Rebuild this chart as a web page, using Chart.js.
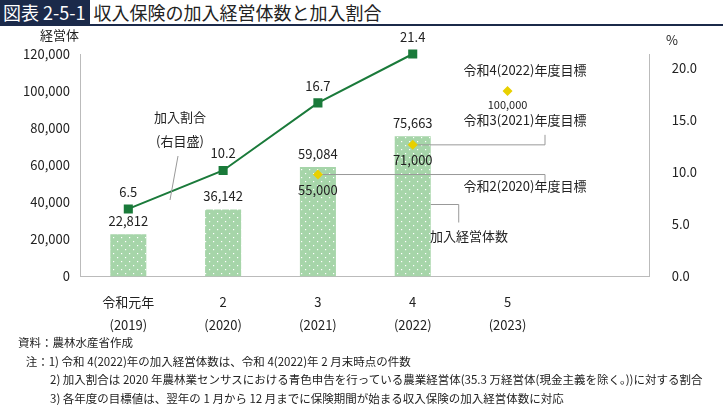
<!DOCTYPE html><html><head><meta charset="utf-8">
<script src="https://cdn.jsdelivr.net/npm/chart.js@4"></script>
<style>
body{margin:0;background:#fff;font-family:"Noto Sans CJK JP";color:#222}
#t{position:absolute;left:0;top:0;width:723px;height:24px;border-bottom:2px solid #1b2a4a;font-size:18px;line-height:24px}
#t span{background:#1b2a4a;color:#fff;padding:0 4px 0 3px;display:inline-block}
#c{position:absolute;left:0;top:20px;width:723px;height:322px}
#n{position:absolute;left:18px;top:333px;font-size:11.5px;line-height:18.5px}
</style></head><body>
<div id="t"><span>図表 2-5-1</span> 収入保険の加入経営体数と加入割合</div>
<div id="c"><canvas id="cv"></canvas></div>
<div id="n">資料：農林水産省作成<br>
&nbsp;&nbsp;&nbsp;注：1) 令和 4(2022)年の加入経営体数は、令和 4(2022)年 2 月末時点の件数<br>
<span style="padding-left:32px">2) 加入割合は 2020 年農林業センサスにおける青色申告を行っている農業経営体(35.3 万経営体(現金主義を除く。))に対する割合</span><br>
<span style="padding-left:32px">3) 各年度の目標値は、翌年の 1 月から 12 月までに保険期間が始まる収入保険の加入経営体数に対応</span></div>
<script>
const categories=[["令和元年","(2019)"],["2","(2020)"],["3","(2021)"],["4","(2022)"],["5","(2023)"],""];
const members=[22812,36142,59084,75663,null,null];
const rate=[6.5,10.2,16.7,21.4,null,null];
const targets=[null,null,55000,71000,100000,null];
const targetNames=["","","令和2(2020)年度目標","令和3(2021)年度目標","令和4(2022)年度目標",""];
const pc=document.createElement('canvas');pc.width=8;pc.height=8;const px=pc.getContext('2d');
px.fillStyle='#a6d5a9';px.fillRect(0,0,8,8);px.fillStyle='#fff';px.fillRect(1,1,1.2,1.2);px.fillRect(5,5,1.2,1.2);
const pat=document.createElement('canvas').getContext('2d').createPattern(pc,'repeat');
const F="Noto Sans CJK JP";
const deco={id:'deco',afterDatasetsDraw(ch){
 const c=ch.ctx,x=ch.scales.x,y=ch.scales.y,y1=ch.scales.y1;
 c.save();c.font='13px '+F;c.fillStyle='#222';c.textAlign='center';
 members.forEach((v,i)=>{if(v!=null)c.fillText(v.toLocaleString('en-US'),x.getPixelForValue(i),y.getPixelForValue(v)-8);});
 rate.forEach((v,i)=>{if(v!=null)c.fillText(v.toFixed(1),x.getPixelForValue(i),y1.getPixelForValue(v)-12);});
 c.strokeStyle='#999';c.lineWidth=1;
 const lx=[0,0,545,545,0];
 targets.forEach((v,i)=>{if(v==null)return;const X=x.getPixelForValue(i),Y=y.getPixelForValue(v);
  if(i<4){c.beginPath();c.moveTo(X,Y);c.lineTo(lx[i],Y);c.lineTo(lx[i],Y+(i==2?10:-10));c.stroke();}
  c.fillStyle='#e8d000';c.beginPath();c.moveTo(X,Y-5);c.lineTo(X+5,Y);c.lineTo(X,Y+5);c.lineTo(X-5,Y);c.fill();
  c.fillStyle='#222';c.font=(i==4?'11px ':'13px ')+F;c.fillText(v.toLocaleString('en-US'),X,Y+(i==4?18:20));
  c.font='13px '+F;c.textAlign='center';
  const ty=i==2?Y+16:(i==3?Y-20:Y-16);c.fillText(targetNames[i],525,ty);
 });
 c.font='13px '+F;c.textAlign='left';c.fillText('加入経営体数',430,y.getPixelForValue(0)-36);
 c.beginPath();c.moveTo(x.getPixelForValue(3)+18,y.getPixelForValue(0)-72);c.lineTo(x.getPixelForValue(3)+46,y.getPixelForValue(0)-72);c.lineTo(x.getPixelForValue(3)+46,y.getPixelForValue(0)-54);c.stroke();
 c.textAlign='center';c.fillText('加入割合',180,102);c.fillText('(右目盛)',180,126);
 c.beginPath();c.moveTo(178,136);c.lineTo(170,180);c.stroke();
 c.textAlign='left';c.fillText('経営体',40,20);c.fillText('%',666,25);
 c.restore();}};
new Chart(document.getElementById('cv'),{data:{labels:categories,datasets:[
 {type:'line',data:rate,yAxisID:'y1',borderColor:'#1a7a3a',backgroundColor:'#1a7a3a',borderWidth:2,pointStyle:'rect',pointRadius:5,order:0,clip:false},
 {type:'bar',data:members,yAxisID:'y',backgroundColor:pat,categoryPercentage:1,barPercentage:0.38,order:1}]},
 plugins:[deco],
 options:{responsive:true,maintainAspectRatio:false,animation:false,layout:{padding:{top:34,left:20,right:12}},
 plugins:{legend:{display:false},tooltip:{enabled:false}},
 scales:{x:{grid:{display:false},border:{color:'#bbb'},ticks:{color:'#222',padding:6,font:{family:F,size:13,lineHeight:1.75}}},
 y:{min:0,max:120000,ticks:{stepSize:20000,color:'#222',font:{family:F,size:13},callback:v=>v.toLocaleString('en-US')},grid:{display:false},border:{color:'#bbb'}},
 y1:{position:'right',min:0,max:21.4,afterBuildTicks:a=>{a.ticks=[0,5,10,15,20].map(v=>({value:v}))},ticks:{color:'#222',font:{family:F,size:13},padding:14,callback:v=>v.toFixed(1)},grid:{display:false},border:{color:'#bbb'}}}}});
</script></body></html>
